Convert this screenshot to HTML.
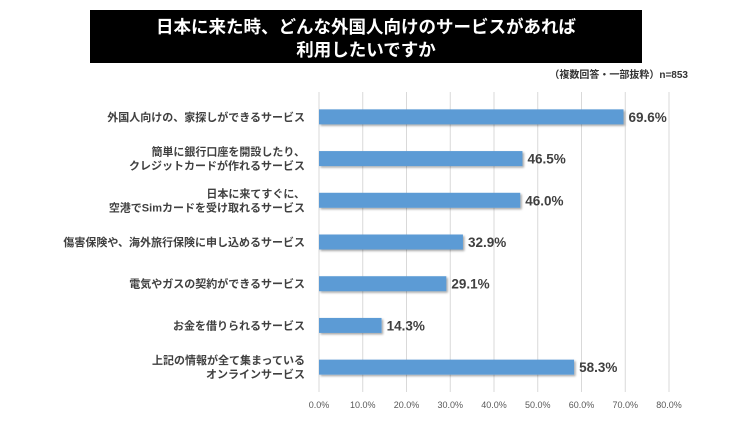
<!DOCTYPE html>
<html><head><meta charset="utf-8"><style>
body{margin:0;background:#fff;width:729px;height:421px;overflow:hidden;font-family:"Liberation Sans","Noto Sans CJK JP",sans-serif;}
</style></head><body>
<svg width="729" height="421" xmlns="http://www.w3.org/2000/svg">
<defs><filter id="sh" x="-5%" y="-20%" width="110%" height="160%"><feDropShadow dx="1.5" dy="1.5" stdDeviation="1" flood-color="#000" flood-opacity="0.35"/></filter></defs>
<rect x="90" y="10" width="552" height="53" fill="#000"/>
<text x="366" y="33" text-anchor="middle" fill="#fff" font-size="17.5" font-weight="bold">日本に来た時、どんな外国人向けのサービスがあれば</text>
<text x="366" y="56" text-anchor="middle" fill="#fff" font-size="17.5" font-weight="bold">利用したいですか</text>
<text x="688" y="78" text-anchor="end" fill="#333" font-size="10" font-weight="bold">（複数回答・一部抜粋）n=853</text>
<g id="grid"></g><g id="bars"></g><g id="labels"></g>
</svg>
<script>
const categories=[["外国人向けの、家探しができるサービス"],["簡単に銀行口座を開設したり、","クレジットカードが作れるサービス"],["日本に来てすぐに、","空港でSimカードを受け取れるサービス"],["傷害保険や、海外旅行保険に申し込めるサービス"],["電気やガスの契約ができるサービス"],["お金を借りられるサービス"],["上記の情報が全て集まっている","オンラインサービス"]];
const values=[69.6,46.5,46.0,32.9,29.1,14.3,58.3];
const ticks=[0,10,20,30,40,50,60,70,80];
const NS="http://www.w3.org/2000/svg";
const x0=319,x1=669,xmax=80,yTop=96,yBot=388;
const X=v=>x0+(x1-x0)*v/xmax;
const band=(yBot-yTop)/values.length;
const Y=i=>yTop+band*(i+0.5);
function mk(t,a,p){const e=document.createElementNS(NS,t);for(const k in a)e.setAttribute(k,a[k]);p.appendChild(e);return e;}
const g=document.getElementById('grid'),b=document.getElementById('bars'),l=document.getElementById('labels');
ticks.forEach(t=>{
 const ln=mk('line',{x1:X(t),x2:X(t),y1:yTop-4,y2:yBot+4,stroke:'#d9d9d9','stroke-width':1},g);
 
 
 const tx=mk('text',{x:X(t),y:408,'text-anchor':'middle','font-size':9,fill:'#595959'},l);
 tx.textContent=t.toFixed(1)+'%';
 
 
});
values.forEach((v,i)=>{
 const y=Y(i);
 const r=mk('rect',{x:x0,y:y-7.5,width:X(v)-x0,height:15,fill:'#5b9bd5',filter:'url(#sh)'},b);
 
 
 const vt=mk('text',{x:X(v)+5,y:y+5,'font-size':13.5,'font-weight':'bold',fill:'#404040'},l);
 vt.textContent=v.toFixed(1)+'%';
 
 
 const lines=categories[i];
 lines.forEach((s,j)=>{
  const ct=mk('text',{x:305,y:y+4+(j-(lines.length-1)/2)*14,'text-anchor':'end','font-size':11,'font-weight':'bold',fill:'#404040'},l);
  ct.textContent=s;
  
  
 });
});
</script>
</body></html>
